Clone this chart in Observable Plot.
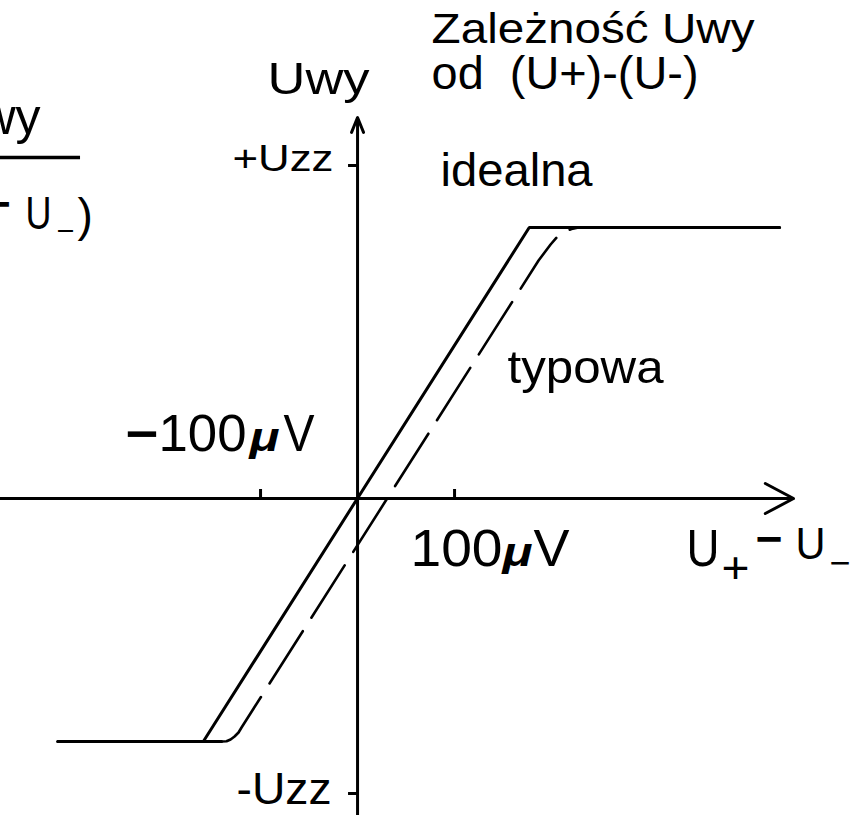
<!DOCTYPE html>
<html>
<head>
<meta charset="utf-8">
<script src="https://cdn.jsdelivr.net/npm/d3@7"></script>
<script src="https://cdn.jsdelivr.net/npm/@observablehq/plot@0.6"></script>
<style>
  html, body { margin: 0; padding: 0; background: #fff; }
  svg { display: block; }
</style>
</head>
<body>
<div id="chart"></div>
<script>
// Transfer characteristic of an op-amp: Uwy vs (U+ − U−)
// x: input difference in µV, y: output (arbitrary units, ±Uzz rails)

// "idealna" characteristic (solid)
const idealX = [-309, -159, 177, 435];
const idealY = [-243, -243, 271, 271];

// "typowa" characteristic (dashed), offset and rounded at saturation
const typowaX = [-309, -140.2, -135.1, -130.9, -126.8, -122.7, -119.6,
                 186.6, 192.8, 199.0, 206.2, 213.4, 220.6, 227.8, 435];
const typowaY = [-243, -243, -242.8, -241, -238, -234, -229,
                 238, 246, 254, 262, 267, 269.5, 271, 271];

// tick marks
const xTickValues = [-100, 100];
const yTickValues = [333, -295];
const yTickLabels = ["+Uzz", "-Uzz"];

const ideal = idealX.map((x, i) => ({x, y: idealY[i]}));
const typ = typowaX.map((x, i) => ({x, y: typowaY[i]}));
const n = typ.length;

// layout of annotation texts (data coordinates)
const FONT = "'Liberation Sans', Arial, Helvetica, sans-serif";
const labels = [
  {t: "Zależność Uwy", x: 76.3, y: 456, size: 42, w: 323},
  {t: "od\u00a0 (U+)-(U-)", x: 76.3, y: 410, size: 46, w: 267},
  {t: "Uwy", x: -92.8, y: 405, size: 44, w: 102},
  {t: yTickLabels[0], x: -128.9, y: 328, size: 36, w: 101},
  {t: yTickLabels[1], x: -124.7, y: -305, size: 45, w: 95},
  {t: "idealna", x: 85.6, y: 313, size: 47, w: 152},
  {t: "typowa", x: 154.6, y: 116, size: 47, w: 156},
  {t: "−", x: -239.2, y: 48, size: 51, weight: "bold", w: 33},
  {t: "100", x: -205.2, y: 48, size: 51, w: 88},
  {t: "μ", x: -111.3, y: 48, size: 40, weight: "bold", style: "italic", w: 30},
  {t: "V", x: -76.3, y: 48, size: 51, w: 31},
  {t: "100", x: 54.6, y: -67, size: 52, w: 92},
  {t: "μ", x: 149.5, y: -67, size: 40, weight: "bold", style: "italic", w: 30},
  {t: "V", x: 181.4, y: -67, size: 52, w: 36},
  {t: "U", x: 339.2, y: -67, size: 52, w: 33},
  {t: "+", x: 375.3, y: -84, size: 44, w: 28},
  {t: "−", x: 410.3, y: -55.5, size: 44, weight: "bold", w: 27},
  {t: "U", x: 451.5, y: -60, size: 44, w: 30},
  {t: "−", x: 486.6, y: -76.7, size: 36},
  {t: "Uwy", x: -326.8, y: 365, size: 50, anchor: "end"},
  {t: "−", x: -357.7, y: 279.5, size: 44, weight: "bold", anchor: "end"},
  {t: "U", x: -342.3, y: 270, size: 46, w: 26},
  {t: "−", x: -310.3, y: 257.4, size: 30, w: 18},
  {t: ")", x: -288.7, y: 268, size: 46}
];

const xAxis = [{x1: -368.1, y1: 0, x2: 449.5, y2: 0}];
const yAxis = [{x1: 0, y1: -317, x2: 0, y2: 381}];

const marks = [
  Plot.arrow(xAxis, {x1: "x1", y1: "y1", x2: "x2", y2: "y2", stroke: "black", strokeWidth: 3, headLength: 16, headAngle: 56}),
  Plot.arrow(yAxis, {x1: "x1", y1: "y1", x2: "x2", y2: "y2", stroke: "black", strokeWidth: 3, headLength: 8, headAngle: 44}),
  Plot.ruleX(xTickValues, {y1: 0, y2: 9, stroke: "black", strokeWidth: 3}),
  Plot.ruleY(yTickValues, {x1: -9.3, x2: 0, stroke: "black", strokeWidth: 3}),
  Plot.ruleY([341], {x1: -368.1, x2: -285.6, stroke: "black", strokeWidth: 3.5}),
  Plot.line(ideal, {x: "x", y: "y", stroke: "black", strokeWidth: 3, strokeLinejoin: "miter"}),
  Plot.line(typ.slice(1, n - 1), {x: "x", y: "y", stroke: "black", strokeWidth: 2.6, strokeDasharray: "62,16", strokeDashoffset: 0}),
  Plot.line(typ.slice(0, 2), {x: "x", y: "y", stroke: "black", strokeWidth: 3}),
  Plot.line(typ.slice(n - 2), {x: "x", y: "y", stroke: "black", strokeWidth: 3}),
  ...labels.map(l => Plot.text([l], {
    x: "x", y: "y", text: "t",
    fontSize: l.size, fontWeight: l.weight || "normal", fontStyle: l.style || "normal",
    fontFamily: FONT, textAnchor: l.anchor || "start", lineAnchor: "bottom", fill: "black"
  }))
];

const svg = Plot.plot({
  width: 850,
  height: 815,
  margin: 0,
  x: {domain: [-368.1, 508.2], axis: null},
  y: {domain: [-317, 498], axis: null},
  style: {background: "white", fontFamily: FONT},
  marks
});

const texts = svg.querySelectorAll('g[aria-label="text"] text');
labels.forEach((l, i) => {
  if (l.w && texts[i]) {
    texts[i].setAttribute("textLength", l.w);
    texts[i].setAttribute("lengthAdjust", "spacingAndGlyphs");
  }
});

document.getElementById("chart").appendChild(svg);
</script>
</body>
</html>
